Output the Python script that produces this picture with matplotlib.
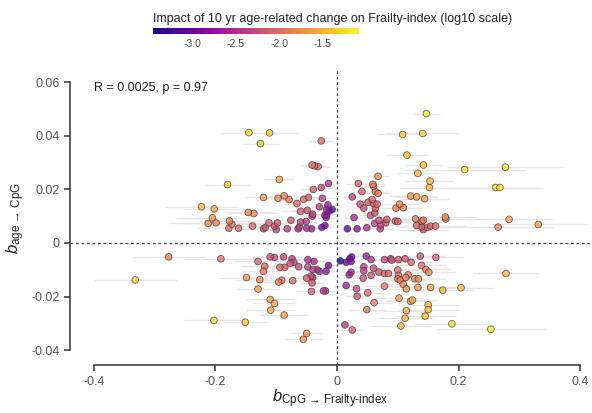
import numpy as np
import matplotlib
matplotlib.use('Agg')
import matplotlib.pyplot as plt
from matplotlib.colors import Normalize

plt.rcParams['font.family'] = ['Liberation Sans', 'DejaVu Sans']
plt.rcParams['mathtext.fontset'] = 'custom'
plt.rcParams['mathtext.rm'] = 'Liberation Sans'
plt.rcParams['mathtext.it'] = 'Liberation Sans:italic'
plt.rcParams['mathtext.bf'] = 'Liberation Sans:bold'

# effect of CpG on frailty index (x) and of age on CpG (y), with SE of x
b_cpg = [
    # upper left
    -0.145, -0.111, -0.126, -0.026, -0.041, -0.037, -0.031, -0.095, -0.180, -0.014,
    -0.039, -0.026, -0.121, -0.097, -0.087, -0.079, -0.066, -0.055, -0.047, -0.024,
    -0.015, -0.223, -0.202, -0.146, -0.137, -0.060, -0.049, -0.040, -0.029, -0.017,
    -0.012, -0.008, -0.020, -0.017, -0.205, -0.212, -0.199, -0.177, -0.173, -0.178,
    -0.162, -0.139, -0.121, -0.118, -0.112, -0.103, -0.098, -0.100, -0.082, -0.076,
    -0.064, -0.062, -0.060, -0.051, -0.050, -0.042, -0.041, -0.025, -0.020, -0.018,
    # upper right
    0.147, 0.108, 0.141, 0.115, 0.142, 0.133, 0.210, 0.277, 0.153, 0.152,
    0.261, 0.268, 0.0675, 0.035, 0.059, 0.060, 0.041, 0.063, 0.0675, 0.025,
    0.058, 0.121, 0.131, 0.144, 0.051, 0.060, 0.066, 0.038, 0.044, 0.063,
    0.103, 0.097, 0.109, 0.055, 0.062, 0.028, 0.069, 0.082, 0.096, 0.100,
    0.129, 0.140, 0.142, 0.178, 0.179, 0.283, 0.331, 0.265, 0.017, 0.033,
    0.049, 0.071, 0.072, 0.080, 0.131, 0.139, 0.142, 0.149, 0.154, 0.162,
    0.062,
    # lower left
    -0.277, -0.332, -0.191, -0.130, -0.119, -0.121, -0.149, -0.127, -0.130, -0.110,
    -0.103, -0.088, -0.074, -0.071, -0.094, -0.086, -0.077, -0.063, -0.048, -0.038,
    -0.048, -0.040, -0.033, -0.029, -0.018, -0.014, -0.050, -0.043, -0.040, -0.041,
    -0.042, -0.0225, -0.019, -0.096, -0.091, -0.073, -0.110, -0.103, -0.109, -0.087,
    -0.2025, -0.151, -0.050, -0.0555,
    # lower right
    0.0055, 0.015, 0.021, 0.024, 0.023, 0.020, 0.023, 0.015, 0.048, 0.056,
    0.078, 0.088, 0.090, 0.101, 0.112, 0.122, 0.137, 0.1625, 0.044, 0.044,
    0.060, 0.069, 0.056, 0.043, 0.078, 0.0845, 0.100, 0.101, 0.113, 0.117,
    0.100, 0.104, 0.109, 0.114, 0.128, 0.134, 0.139, 0.146, 0.151, 0.078,
    0.032, 0.033, 0.0505, 0.061, 0.049, 0.102, 0.121, 0.124, 0.114, 0.112,
    0.105, 0.133, 0.154, 0.174, 0.204, 0.150, 0.150, 0.145, 0.189, 0.013,
    0.025, 0.278, 0.253,
]

b_age = [
    0.0412, 0.0411, 0.0371, 0.0381, 0.0291, 0.0288, 0.0285, 0.0237, 0.0218, 0.0222,
    0.0200, 0.0207, 0.0170, 0.0167, 0.0176, 0.0162, 0.0147, 0.0163, 0.0170, 0.0167,
    0.0142, 0.0135, 0.0127, 0.0114, 0.0110, 0.0118, 0.0122, 0.0107, 0.0135, 0.0125,
    0.0120, 0.0125, 0.0103, 0.0107, 0.0094, 0.0073, 0.0075, 0.0082, 0.0070, 0.0055,
    0.0055, 0.0063, 0.0053, 0.0058, 0.0075, 0.0063, 0.0075, 0.0050, 0.0053, 0.0085,
    0.0053, 0.0060, 0.0078, 0.0080, 0.0055, 0.0053, 0.0100, 0.0058, 0.0065, 0.0095,
    0.0483, 0.0405, 0.0409, 0.0328, 0.0291, 0.0260, 0.0274, 0.0283, 0.0231, 0.0207,
    0.0207, 0.0207, 0.0249, 0.0222, 0.0219, 0.0212, 0.0192, 0.0192, 0.0185, 0.0172,
    0.0162, 0.0175, 0.0172, 0.0165, 0.0152, 0.0147, 0.0145, 0.0145, 0.0130, 0.0130,
    0.0145, 0.0130, 0.0132, 0.0103, 0.0112, 0.0095, 0.0085, 0.0088, 0.0082, 0.0080,
    0.0090, 0.0080, 0.0085, 0.0097, 0.0090, 0.0088, 0.0069, 0.0059, 0.0053, 0.0053,
    0.0057, 0.0053, 0.0068, 0.0075, 0.0065, 0.0060, 0.0050, 0.0058, 0.0063, 0.0063,
    0.0073,
    -0.0052, -0.0138, -0.0059, -0.0069, -0.0087, -0.0106, -0.0129, -0.0137, -0.0172, -0.0052,
    -0.0054, -0.0052, -0.0059, -0.0072, -0.0091, -0.0091, -0.0076, -0.0089, -0.0062, -0.0069,
    -0.0089, -0.0099, -0.0099, -0.0106, -0.0106, -0.0084, -0.0131, -0.0124, -0.0129, -0.0149,
    -0.0181, -0.0179, -0.0179, -0.0146, -0.0139, -0.0141, -0.0211, -0.0226, -0.0251, -0.0269,
    -0.0289, -0.0296, -0.0338, -0.0360,
    -0.0067, -0.0072, -0.0059, -0.0052, -0.0069, -0.0119, -0.0109, -0.0159, -0.0049, -0.0062,
    -0.0062, -0.0059, -0.0064, -0.0062, -0.0059, -0.0072, -0.0049, -0.0054, -0.0089, -0.0104,
    -0.0094, -0.0109, -0.0121, -0.0131, -0.0114, -0.0114, -0.0101, -0.0121, -0.0129, -0.0119,
    -0.0134, -0.0139, -0.0154, -0.0171, -0.0134, -0.0134, -0.0084, -0.0099, -0.0109, -0.0161,
    -0.0171, -0.0199, -0.0186, -0.0223, -0.0249, -0.0206, -0.0218, -0.0213, -0.0253, -0.0281,
    -0.0310, -0.0166, -0.0166, -0.0176, -0.0167, -0.0231, -0.0249, -0.0273, -0.0302, -0.0306,
    -0.0325, -0.0114, -0.0322,
]

se_cpg = [
    0.048, 0.045, 0.031, 0.020, 0.020, 0.020, 0.020, 0.025, 0.037, 0.015,
    0.020, 0.020, 0.030, 0.030, 0.025, 0.020, 0.020, 0.025, 0.020, 0.020,
    0.015, 0.060, 0.050, 0.040, 0.040, 0.030, 0.025, 0.020, 0.020, 0.015,
    0.015, 0.015, 0.015, 0.015, 0.060, 0.065, 0.060, 0.050, 0.050, 0.050,
    0.045, 0.040, 0.040, 0.035, 0.035, 0.035, 0.030, 0.030, 0.030, 0.030,
    0.025, 0.025, 0.025, 0.020, 0.020, 0.020, 0.020, 0.015, 0.015, 0.015,
    0.022, 0.040, 0.060, 0.035, 0.030, 0.035, 0.100, 0.095, 0.040, 0.050,
    0.070, 0.070, 0.020, 0.020, 0.020, 0.020, 0.020, 0.020, 0.020, 0.015,
    0.020, 0.035, 0.035, 0.040, 0.020, 0.020, 0.020, 0.015, 0.020, 0.020,
    0.030, 0.030, 0.030, 0.020, 0.020, 0.015, 0.025, 0.030, 0.030, 0.030,
    0.035, 0.040, 0.040, 0.050, 0.050, 0.070, 0.080, 0.090, 0.010, 0.015,
    0.015, 0.020, 0.020, 0.025, 0.035, 0.040, 0.040, 0.045, 0.045, 0.050,
    0.020,
    0.060, 0.068, 0.060, 0.040, 0.040, 0.035, 0.045, 0.040, 0.035, 0.030,
    0.030, 0.030, 0.025, 0.025, 0.030, 0.030, 0.025, 0.020, 0.020, 0.020,
    0.020, 0.020, 0.015, 0.015, 0.015, 0.015, 0.025, 0.020, 0.020, 0.020,
    0.025, 0.015, 0.015, 0.030, 0.030, 0.030, 0.040, 0.035, 0.040, 0.040,
    0.050, 0.037, 0.025, 0.030,
    0.010, 0.010, 0.010, 0.010, 0.010, 0.015, 0.015, 0.020, 0.020, 0.020,
    0.025, 0.025, 0.025, 0.030, 0.030, 0.035, 0.040, 0.045, 0.020, 0.020,
    0.025, 0.030, 0.025, 0.020, 0.030, 0.030, 0.035, 0.035, 0.040, 0.040,
    0.035, 0.040, 0.040, 0.040, 0.040, 0.045, 0.040, 0.040, 0.045, 0.030,
    0.020, 0.020, 0.025, 0.030, 0.030, 0.040, 0.040, 0.040, 0.040, 0.045,
    0.050, 0.040, 0.045, 0.050, 0.055, 0.050, 0.050, 0.050, 0.060, 0.015,
    0.020, 0.055, 0.090,
]

x = np.array(b_cpg)
y = np.array(b_age)
xerr = np.array(se_cpg)
# impact of a 10 year age change on the frailty index
impact = np.log10(np.abs(10 * x * y))

fig = plt.figure(figsize=(5.92, 4.13), dpi=100)
ax = fig.add_axes([0.118, 0.116, 0.879, 0.714])

ax.errorbar(x, y, xerr=xerr, fmt='none', ecolor='#e6e6e6', elinewidth=1.0,
            capsize=0, zorder=1)
ax.axhline(0, color='#444444', lw=0.9, ls=(0, (2.2, 2.2)), zorder=2)
ax.axvline(0, color='#444444', lw=0.9, ls=(0, (2.2, 2.2)), zorder=2)

norm = Normalize(vmin=-3.45, vmax=-1.09)
order = np.argsort(impact)
sc = ax.scatter(x[order], y[order], c=impact[order], cmap='plasma', norm=norm,
                s=23, edgecolors='#3a3a3a', linewidths=0.6, alpha=0.78, zorder=3)

ax.set_xlim(-0.4395, 0.4165)
ax.set_ylim(-0.0456, 0.0645)
ax.set_xticks([-0.4, -0.2, 0, 0.2, 0.4])
ax.set_xticklabels(['-0.4', '-0.2', '0', '0.2', '0.4'])
ax.set_yticks([-0.04, -0.02, 0, 0.02, 0.04, 0.06])
ax.set_yticklabels(['-0.04', '-0.02', '0', '0.02', '0.04', '0.06'])
for s in ['top', 'right']:
    ax.spines[s].set_visible(False)
ax.spines['left'].set_bounds(-0.04, 0.06)
ax.spines['bottom'].set_bounds(-0.4, 0.4)
for s in ['left', 'bottom']:
    ax.spines[s].set_color('#333333')
    ax.spines[s].set_linewidth(1.1)
ax.tick_params(axis='both', labelsize=9, labelcolor='#555555', color='#333333',
               length=4, width=1.1)

ax.set_xlabel(r'$b_{\mathrm{CpG\ →\ Frailty\text{-}index}}$',
              fontsize=12, labelpad=0, color='#222222')
ax.set_ylabel(r'$b_{\mathrm{age\ →\ CpG}}$', fontsize=12,
              labelpad=3, color='#222222')

ax.text(-0.4, 0.058, 'R = 0.0025, p = 0.97', fontsize=9, color='#222222',
        va='center', ha='left')

cax = fig.add_axes([0.258, 0.918, 0.348, 0.013])
cb = fig.colorbar(sc, cax=cax, orientation='horizontal')
cb.solids.set_alpha(1)
cb.outline.set_visible(False)
cb.set_ticks([-3.0, -2.5, -2.0, -1.5])
cb.set_ticklabels(['-3.0', '-2.5', '-2.0', '-1.5'])
cax.tick_params(length=0, labelsize=7.5, labelcolor='#444444', pad=4)
cax.set_title('Impact of 10 yr age-related change on Frailty-index (log10 scale)',
              loc='left', fontsize=9, color='#222222', pad=5)

fig.savefig('out.png', dpi=100)
